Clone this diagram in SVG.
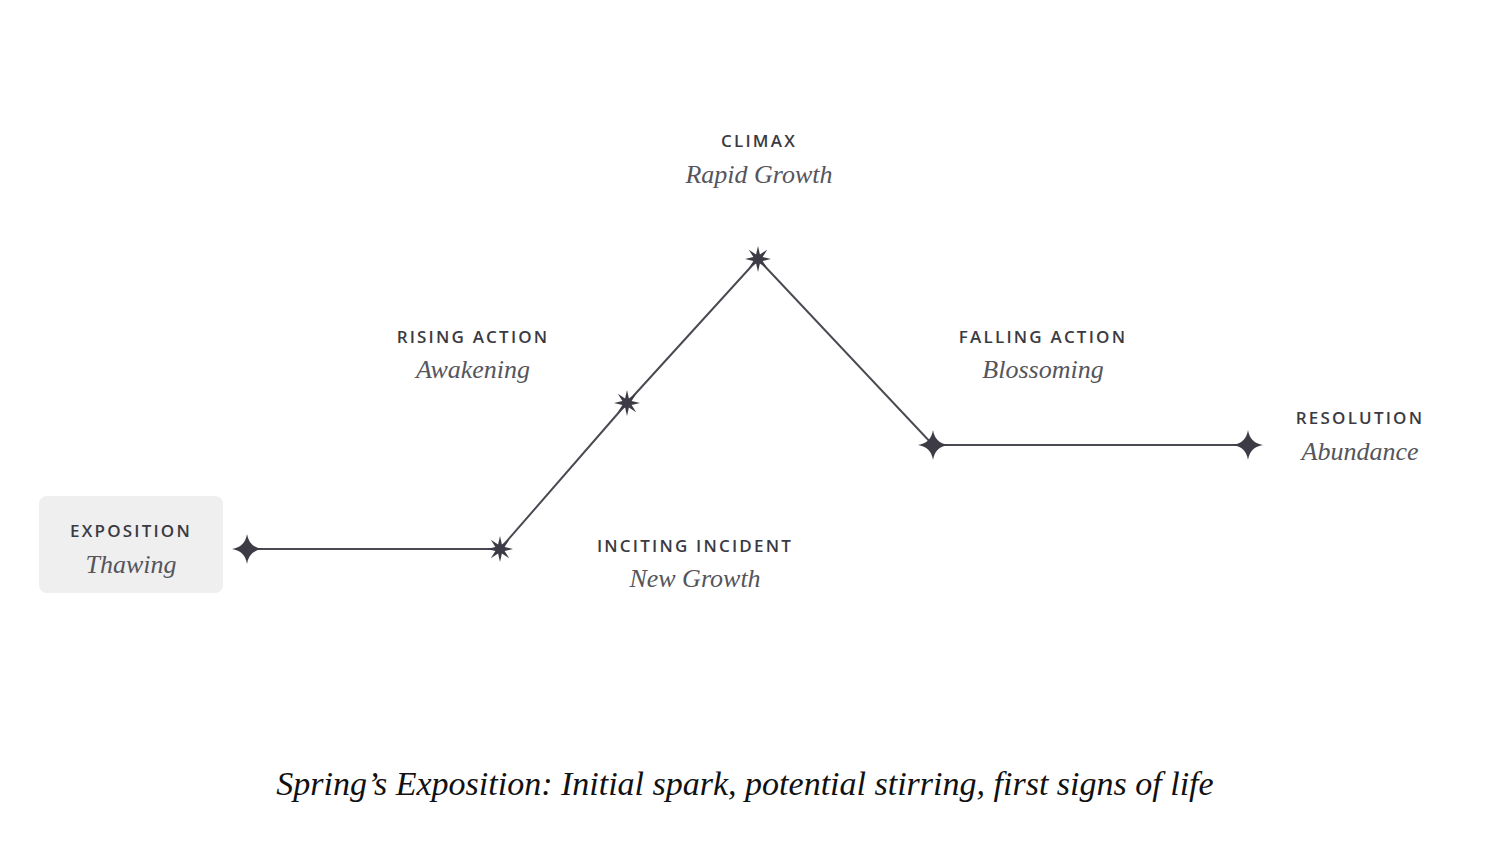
<svg xmlns="http://www.w3.org/2000/svg" width="1498" height="856" viewBox="0 0 1498 856">
<style>
.h{font-family:"Open Sans","Liberation Sans",sans-serif;font-size:17px;font-weight:600;letter-spacing:2.2px;fill:#3a3a42;text-anchor:middle}
.s{font-family:"Liberation Serif",serif;font-style:italic;font-size:26px;fill:#55555c;text-anchor:middle}
.m{fill:#3d3c46}
</style>
<defs>
<path id="st" d="M0,-13 L1.91,-4.62 L9.19,-9.19 L4.62,-1.91 L13,0 L4.62,1.91 L9.19,9.19 L1.91,4.62 L0,13 L-1.91,4.62 L-9.19,9.19 L-4.62,1.91 L-13,0 L-4.62,-1.91 L-9.19,-9.19 L-1.91,-4.62 Z"/>
<path id="sp" d="M0,-15 Q2,-2 15,0 Q2,2 0,15 Q-2,2 -15,0 Q-2,-2 0,-15 Z"/>
</defs>
<rect width="1498" height="856" fill="#fff"/>
<g id="connectors" fill="none" stroke="#4a4a52" stroke-width="2">
<polyline points="247,549 500,549 627,403 758,259 933,445 1248,445"/>
</g>
<g id="exposition"><rect x="39" y="496" width="184" height="97" rx="8" fill="#efefef"/><text class="h" x="131" y="537">EXPOSITION</text><text class="s" x="131" y="573">Thawing</text><use href="#sp" x="247" y="549" class="m"/></g>
<g id="inciting"><use href="#st" x="500" y="549" class="m"/><text class="h" x="695" y="552">INCITING INCIDENT</text><text class="s" x="695" y="587">New Growth</text></g>
<g id="rising"><use href="#st" x="627" y="403" class="m"/><text class="h" x="473" y="343">RISING ACTION</text><text class="s" x="473" y="378">Awakening</text></g>
<g id="climax"><use href="#st" x="758" y="259" class="m"/><text class="h" x="759" y="147">CLIMAX</text><text class="s" x="759" y="183">Rapid Growth</text></g>
<g id="falling"><use href="#sp" x="933" y="445" class="m"/><text class="h" x="1043" y="343">FALLING ACTION</text><text class="s" x="1043" y="378">Blossoming</text></g>
<g id="resolution"><use href="#sp" x="1248" y="445" class="m"/><text class="h" x="1360" y="424">RESOLUTION</text><text class="s" x="1360" y="460">Abundance</text></g>
<text x="745" y="795" font-family="Liberation Serif,serif" font-style="italic" font-size="34" fill="#111" text-anchor="middle">Spring’s Exposition: Initial spark, potential stirring, first signs of life</text>
</svg>
